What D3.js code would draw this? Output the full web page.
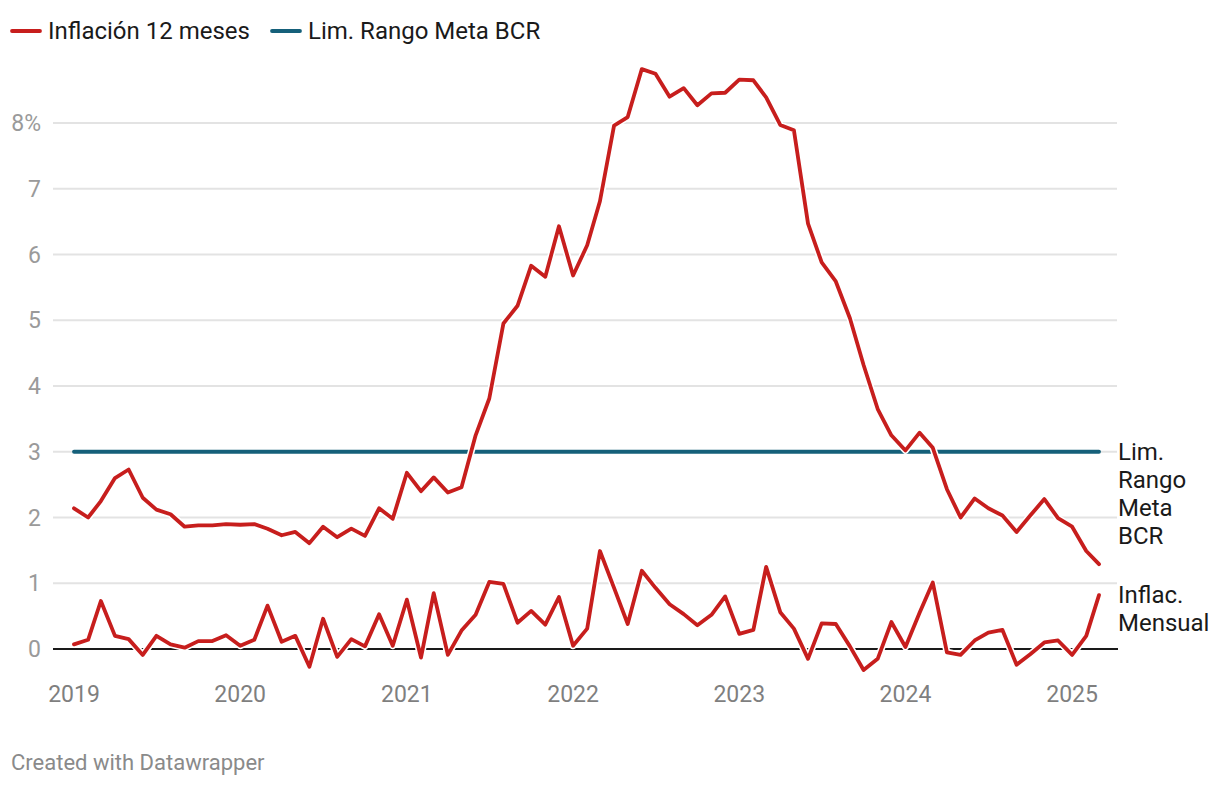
<!DOCTYPE html>
<html>
<head>
<meta charset="utf-8">
<script src="https://cdn.jsdelivr.net/npm/d3@7"></script>
<style>
  body { margin: 0; background: #fff; font-family: Roboto, "Noto Sans", sans-serif; }
</style>
</head>
<body>
<div class="central"></div>
<script>
//Months from Jan 2019 to Mar 2025
var startMonth = "2019-01";
var monthCount = 75;

//Inflacion 12 meses (%)
var inflacion12 = [
	2.14, 2.00, 2.25, 2.60, 2.73, 2.30, 2.12, 2.05, 1.86, 1.88, 1.88, 1.90,
	1.89, 1.90, 1.83, 1.73, 1.78, 1.61, 1.86, 1.70, 1.83, 1.72, 2.14, 1.98,
	2.68, 2.40, 2.61, 2.38, 2.46, 3.25, 3.81, 4.95, 5.22, 5.83, 5.66, 6.43,
	5.68, 6.14, 6.81, 7.96, 8.09, 8.82, 8.75, 8.40, 8.53, 8.27, 8.45, 8.46,
	8.66, 8.65, 8.39, 7.97, 7.89, 6.47, 5.88, 5.59, 5.03, 4.32, 3.65, 3.25,
	3.02, 3.29, 3.06, 2.43, 2.00, 2.29, 2.14, 2.03, 1.78, 2.03, 2.28, 1.99,
	1.86, 1.49, 1.29
];

//Inflacion mensual (%)
var inflacionMensual = [
	0.07, 0.14, 0.73, 0.20, 0.15, -0.09, 0.20, 0.07, 0.02, 0.12, 0.12, 0.21,
	0.05, 0.14, 0.66, 0.11, 0.20, -0.27, 0.46, -0.12, 0.15, 0.04, 0.53, 0.05,
	0.75, -0.13, 0.85, -0.09, 0.28, 0.52, 1.02, 0.99, 0.40, 0.58, 0.37, 0.79,
	0.05, 0.31, 1.49, 0.93, 0.38, 1.19, 0.93, 0.68, 0.53, 0.36, 0.52, 0.80,
	0.23, 0.29, 1.25, 0.56, 0.31, -0.15, 0.39, 0.38, 0.04, -0.32, -0.15, 0.41,
	0.03, 0.55, 1.01, -0.05, -0.09, 0.13, 0.25, 0.29, -0.24, -0.08, 0.10, 0.13,
	-0.09, 0.20, 0.82
];

//Limite del rango meta BCR
var limiteMeta = 3;

//Axis ticks
var yTicks = [0, 1, 2, 3, 4, 5, 6, 7, 8];
var xTickYears = [2019, 2020, 2021, 2022, 2023, 2024, 2025];

//Legend and direct labels
var legendItems = [
	{label: "Inflación 12 meses", color: "#c71e1d"},
	{label: "Lim. Rango Meta BCR", color: "#15607a"}
];
var limLabel = ["Lim.", "Rango", "Meta", "BCR"];
var mensualLabel = ["Inflac.", "Mensual"];

//Width and height of page
var width = 1220,
	height = 786;

var parseMonth = d3.timeParse("%Y-%m");
var dates = d3.timeMonth.range(parseMonth(startMonth), d3.timeMonth.offset(parseMonth(startMonth), monthCount));

var x = d3.scaleTime()
			.domain([dates[0], dates[dates.length - 1]])
			.range([74, 1099]);

var y = d3.scaleLinear()
			.domain([0, 8])
			.range([649, 123]);

var svg = d3.select(".central")
			.append("svg")
			.attr("width", width)
			.attr("height", height);

//Gridlines
svg.selectAll(".grid")
	.data(yTicks.filter(function(d){ return d != 0; }))
	.enter()
	.append("line")
	.attr("class", "grid")
	.attr("x1", 53)
	.attr("x2", 1117)
	.attr("y1", function(d){ return y(d); })
	.attr("y2", function(d){ return y(d); })
	.style("stroke", "#e3e3e3")
	.style("stroke-width", 1.8);

//Y labels
svg.selectAll(".yLabel")
	.data(yTicks)
	.enter()
	.append("text")
	.attr("class", "yLabel")
	.attr("x", 41)
	.attr("y", function(d){ return y(d); })
	.attr("dy", "0.35em")
	.attr("text-anchor", "end")
	.style("font-size", "23px")
	.style("fill", "#9a9a9a")
	.text(function(d){ return d == 8 ? d + "%" : d; });

//X labels
svg.selectAll(".xLabel")
	.data(xTickYears)
	.enter()
	.append("text")
	.attr("class", "xLabel")
	.attr("x", function(d){ return x(new Date(d, 0, 1)); })
	.attr("y", 694)
	.attr("dy", "0.35em")
	.attr("text-anchor", "middle")
	.style("font-size", "23px")
	.style("fill", "#7f7f7f")
	.text(function(d){ return d; });

//Baseline at zero
svg.append("line")
	.attr("x1", 53)
	.attr("x2", 1118)
	.attr("y1", y(0))
	.attr("y2", y(0))
	.style("stroke", "#1a1a1a")
	.style("stroke-width", 1.8);

//Blue target line
svg.append("line")
	.attr("x1", x(dates[0]))
	.attr("x2", x(dates[dates.length - 1]))
	.attr("y1", y(limiteMeta))
	.attr("y2", y(limiteMeta))
	.style("stroke", legendItems[1].color)
	.style("stroke-width", 3.8)
	.style("stroke-linecap", "round");

var line = d3.line()
			.x(function(d, i){ return x(dates[i]); })
			.y(function(d){ return y(d); });

//Red lines with a thin white halo
[inflacionMensual, inflacion12].forEach(function(series){
	svg.append("path")
		.attr("d", line(series))
		.style("fill", "none")
		.style("stroke", "#fff")
		.style("stroke-width", 7)
		.style("stroke-linejoin", "round");
	svg.append("path")
		.attr("d", line(series))
		.style("fill", "none")
		.style("stroke", legendItems[0].color)
		.style("stroke-width", 3.8)
		.style("stroke-linejoin", "round")
		.style("stroke-linecap", "round");
});

//Direct labels at right
var drawLabel = function(lines, startY){
	svg.append("text")
		.attr("x", 1118)
		.attr("y", startY)
		.style("font-size", "24px")
		.style("fill", "#1a1a1a")
		.selectAll("tspan")
		.data(lines)
		.enter()
		.append("tspan")
		.attr("x", 1118)
		.attr("y", function(d, i){ return startY + i * 28; })
		.attr("dy", "0.35em")
		.text(function(d){ return d; });
};
drawLabel(limLabel, y(limiteMeta));
drawLabel(mensualLabel, y(inflacionMensual[inflacionMensual.length - 1]));

//Legend
var legendX = [11, 271];
var legend = svg.selectAll(".legend")
				.data(legendItems)
				.enter()
				.append("g")
				.attr("class", "legend")
				.attr("transform", function(d, i){ return "translate(" + legendX[i] + ",31)"; });
legend.append("line")
	.attr("x1", 1)
	.attr("x2", 29)
	.style("stroke", function(d){ return d.color; })
	.style("stroke-width", 3.8)
	.style("stroke-linecap", "round");
legend.append("text")
	.attr("x", 37)
	.attr("dy", "0.35em")
	.style("font-size", "24px")
	.style("fill", "#1a1a1a")
	.text(function(d){ return d.label; });

//Footer
svg.append("text")
	.attr("x", 11)
	.attr("y", 762)
	.attr("dy", "0.35em")
	.style("font-size", "22px")
	.style("fill", "#8a8a8a")
	.text("Created with Datawrapper");
</script>
</body>
</html>
